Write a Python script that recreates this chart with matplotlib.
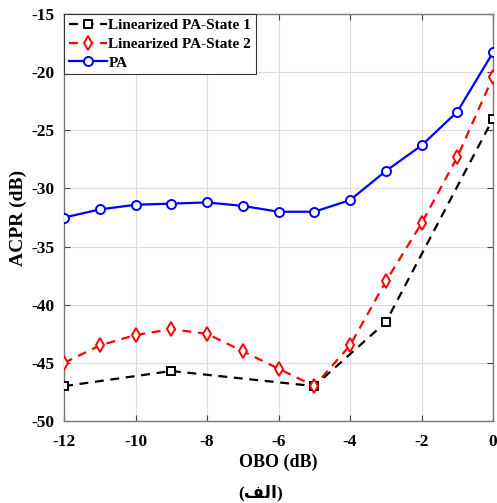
import matplotlib
matplotlib.use("Agg")
import matplotlib.pyplot as plt

obo = [-12, -11, -10, -9, -8, -7, -6, -5, -4, -3, -2, -1, 0]
state1_x = [-12, -9, -5, -3, 0]
state1_y = [-47.0, -45.7, -47.0, -41.5, -24.0]
state2_y = [-45.0, -43.5, -42.6, -42.1, -42.5, -44.0, -45.5, -47.0, -43.5, -38.0, -33.0, -27.3, -20.4]
pa_y = [-32.5, -31.8, -31.4, -31.3, -31.2, -31.5, -32.0, -32.0, -31.0, -28.5, -26.3, -23.4, -18.3]

xticks = [-12, -10, -8, -6, -4, -2, 0]
yticks = [-50, -45, -40, -35, -30, -25, -20, -15]

plt.rcParams['font.family'] = ['Liberation Serif', 'DejaVu Sans']
plt.rcParams['font.weight'] = 'bold'

fig = plt.figure(figsize=(4.97, 5.03), dpi=100)
ax = fig.add_axes([0.129, 0.163, 0.863, 0.809])

dash = (0, (4, 3))
ax.plot(state1_x, state1_y, color='black', linestyle=dash, linewidth=1.6,
        marker='s', markersize=6, markerfacecolor='white', markeredgecolor='black',
        markeredgewidth=1.4, label='Linearized PA-State 1', zorder=3)
ax.plot(obo, state2_y, color='red', linestyle=dash, linewidth=1.6,
        marker='d', markersize=7.5, markerfacecolor='white', markeredgecolor='red',
        markeredgewidth=1.4, label='Linearized PA-State 2', zorder=3)
ax.plot(obo, pa_y, color='blue', linestyle='-', linewidth=1.6,
        marker='o', markersize=6.5, markerfacecolor='white', markeredgecolor='blue',
        markeredgewidth=1.4, label='PA', zorder=3)

ax.set_xlim(-12, 0)
ax.set_ylim(-50, -15)
ax.set_xticks(xticks)
ax.set_yticks(yticks)
ax.set_xticklabels([str(t) for t in xticks], fontsize=12.5, fontweight='bold')
ax.set_yticklabels([str(t) for t in yticks], fontsize=12.5, fontweight='bold')
ax.tick_params(axis='x', direction='in', top=True, length=4, color='#444444', pad=9)
ax.tick_params(axis='y', direction='in', right=True, length=4, color='#444444', pad=7)
ax.grid(True, color='#dddddd', linewidth=0.8)
for s in ax.spines.values():
    s.set_color('#777777')
    s.set_linewidth(1)

ax.set_xlabel('OBO (dB)', fontsize=13, fontweight='bold', labelpad=3)
ax.set_ylabel('ACPR (dB)', fontsize=14, fontweight='bold', labelpad=3)

leg = ax.legend(loc='upper left', frameon=True, fancybox=False,
                borderpad=0.3, labelspacing=0.32, handlelength=2.5, handletextpad=0.1,
                borderaxespad=0.0, prop={'weight': 'bold', 'size': 11})
leg.get_frame().set_edgecolor('#333333')
leg.get_frame().set_linewidth(0.8)
leg.get_frame().set_alpha(1)

caption = '(' + '\uFED2\uFEDF\uFE8D' + ')'
fig.text(0.525, 0.02, caption, ha='center', va='center', fontsize=12.5,
         fontweight='bold', family=['Liberation Serif', 'DejaVu Sans'])

fig.savefig('out.png', dpi=100)
